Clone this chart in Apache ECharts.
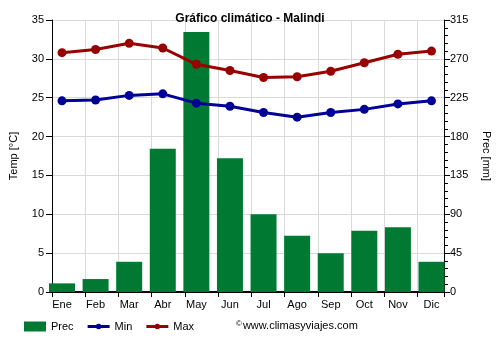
<!DOCTYPE html>
<html>
<head>
<meta charset="utf-8">
<script src="https://cdn.jsdelivr.net/npm/echarts@6/dist/echarts.min.js"></script>
<style>
  html, body { margin: 0; padding: 0; background: #fff; }
  #chart { width: 500px; height: 350px; }
</style>
</head>
<body>
<div id="chart"></div>
<script>
// Monthly climate data for Malindi
const months = ['Ene', 'Feb', 'Mar', 'Abr', 'May', 'Jun', 'Jul', 'Ago', 'Sep', 'Oct', 'Nov', 'Dic'];
const precMm = [10, 15, 35, 166, 301, 155, 90, 65, 45, 71, 75, 35];
const tempMin = [24.6, 24.7, 25.3, 25.5, 24.3, 23.9, 23.1, 22.5, 23.1, 23.5, 24.2, 24.6];
const tempMax = [30.8, 31.2, 32.0, 31.4, 29.3, 28.5, 27.6, 27.7, 28.4, 29.5, 30.6, 31.0];
const tempTicks = { min: 0, max: 35, interval: 5 };
const precTicks = { min: 0, max: 315, interval: 45 };

const FONT = "'Liberation Sans', Arial, sans-serif";
const GREEN = '#007a33';
const BLUE = '#000099';
const RED = '#990000';
const GRID_GRAY = '#d9d9d9';

// legend glyph for the temperature lines: a short thick stroke with a small dot
const LINE_ICON = 'path://M0,0M22,10M0,3.6H22V6.4H0Z M8.2,5A2.8,2.8 0 1 1 13.8,5A2.8,2.8 0 1 1 8.2,5Z';

const chart = echarts.init(document.getElementById('chart'), null, { renderer: 'canvas' });

chart.setOption({
  animation: false,
  backgroundColor: '#fff',
  textStyle: { fontFamily: FONT, color: '#000' },
  title: {
    text: 'Gráfico climático - Malindi',
    left: 'center',
    top: 8,
    textStyle: { fontSize: 12, fontWeight: 'bold', color: '#000', fontFamily: FONT }
  },
  legend: {
    left: 19,
    top: 316,
    itemWidth: 22,
    itemHeight: 10,
    itemGap: 14,
    selectedMode: false,
    textStyle: { fontSize: 11, color: '#000', fontFamily: FONT },
    data: [
      { name: 'Prec', icon: 'rect' },
      { name: 'Min', icon: LINE_ICON },
      { name: 'Max', icon: LINE_ICON }
    ]
  },
  graphic: [{
    type: 'text',
    left: 236,
    top: 320,
    style: {
      text: '{c|©}www.climasyviajes.com',
      rich: {
        c: { fontSize: 8, verticalAlign: 'top', fontFamily: FONT, fill: '#000', padding: [0, 1, 0, 0] }
      },
      fontSize: 11,
      fontFamily: FONT,
      fill: '#000'
    }
  }],
  grid: [
    // band for the monthly bars and lines
    { left: 45.2, right: 51.7, top: 20, bottom: 58 },
    // frame: axes, ticks and grid lines
    { left: 49, right: 55, top: 20, bottom: 58 }
  ],
  xAxis: [
    {
      type: 'category',
      gridIndex: 0,
      data: months,
      boundaryGap: true,
      axisLine: { show: false },
      axisTick: { show: false },
      splitLine: { show: false },
      axisLabel: { fontSize: 11, color: '#000', margin: 7, fontFamily: FONT }
    },
    {
      type: 'value',
      gridIndex: 1,
      min: 0,
      max: 11.8,
      interval: 1,
      axisLabel: { show: false },
      axisLine: { show: true, onZero: false, lineStyle: { color: '#000', width: 2 } },
      axisTick: { show: true, length: 5, lineStyle: { color: '#000', width: 1 } },
      splitLine: { show: true, lineStyle: { color: GRID_GRAY, width: 1 } }
    }
  ],
  yAxis: [
    { type: 'value', gridIndex: 0, show: false, min: tempTicks.min, max: tempTicks.max },
    { type: 'value', gridIndex: 0, show: false, min: precTicks.min, max: precTicks.max },
    {
      type: 'value',
      gridIndex: 1,
      position: 'left',
      min: tempTicks.min,
      max: tempTicks.max,
      interval: tempTicks.interval,
      name: 'Temp [°C]',
      nameLocation: 'middle',
      nameRotate: 90,
      nameGap: 33,
      nameTextStyle: { fontSize: 11, color: '#000', fontFamily: FONT },
      axisLine: { show: true, lineStyle: { color: '#000', width: 1 } },
      axisTick: { show: true, length: 6, lineStyle: { color: '#000' } },
      axisLabel: { fontSize: 11, color: '#000', margin: 8, fontFamily: FONT },
      splitLine: { show: true, lineStyle: { color: GRID_GRAY, width: 1 } }
    },
    {
      type: 'value',
      gridIndex: 1,
      position: 'right',
      min: precTicks.min,
      max: precTicks.max,
      interval: precTicks.interval,
      name: 'Prec [mm]',
      nameLocation: 'middle',
      nameRotate: -90,
      nameGap: 37,
      nameTextStyle: { fontSize: 11, color: '#000', fontFamily: FONT },
      axisLine: { show: true, lineStyle: { color: '#000', width: 1 } },
      axisTick: { show: true, length: 6, lineStyle: { color: '#000' } },
      minorTick: { show: true, splitNumber: 5, length: 4, lineStyle: { color: '#000' } },
      axisLabel: { fontSize: 11, color: '#000', margin: 6, fontFamily: FONT },
      splitLine: { show: false }
    }
  ],
  series: [
    {
      name: 'Prec',
      type: 'bar',
      xAxisIndex: 0,
      yAxisIndex: 1,
      data: precMm,
      barWidth: 26,
      itemStyle: { color: GREEN },
      emphasis: { disabled: true }
    },
    {
      name: 'Min',
      type: 'line',
      xAxisIndex: 0,
      yAxisIndex: 0,
      data: tempMin,
      symbol: 'circle',
      symbolSize: 9,
      lineStyle: { color: BLUE, width: 3 },
      itemStyle: { color: BLUE },
      emphasis: { disabled: true }
    },
    {
      name: 'Max',
      type: 'line',
      xAxisIndex: 0,
      yAxisIndex: 0,
      data: tempMax,
      symbol: 'circle',
      symbolSize: 9,
      lineStyle: { color: RED, width: 3 },
      itemStyle: { color: RED },
      emphasis: { disabled: true }
    }
  ]
});
</script>
</body>
</html>
